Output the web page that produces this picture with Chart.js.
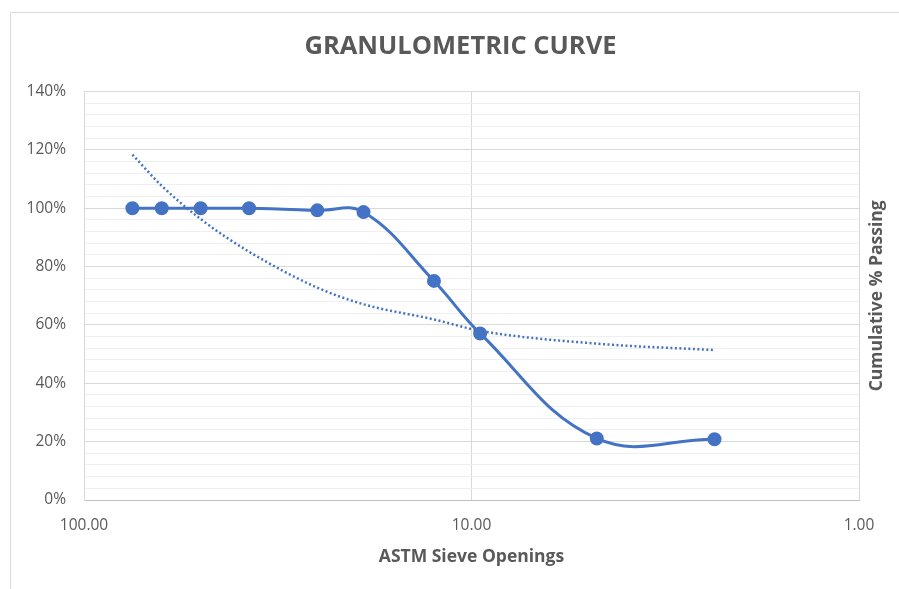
<!DOCTYPE html>
<html>
<head>
<meta charset="utf-8">
<script src="https://cdn.jsdelivr.net/npm/chart.js@4"></script>
<style>
  body { margin: 0; background: #fff; }
  #wrap { position: relative; width: 899px; height: 589px; }
</style>
</head>
<body>
<div id="wrap"><canvas id="curveChart" width="899" height="589"></canvas></div>
<script>
// sieve openings (mm) and % passing
var sieveSizes = [75, 63, 50, 37.5, 25, 19, 12.5, 9.5, 4.75, 2.36];
var passing = [100, 100, 100, 100, 99.3, 98.7, 75.1, 57.1, 21.1, 20.8];
var trendValues = [118.4, 107.7, 96.3, 85.1, 72.8, 67.1, 61.9, 58.0, 53.6, 51.4];
var xTicks = [100, 10, 1];
var yLabelEvery = 20;

var BLUE = '#4472C4';
var GREY_TEXT = '#595959';
var FONT = "'Open Sans', 'Liberation Sans', sans-serif";

function toPoints(ys) {
    var pts = [];
    for (var i = 0; i < sieveSizes.length; ++i) {
        pts.push({ x: sieveSizes[i], y: ys[i] });
    }
    return pts;
}

// frame of the excel chart and the right hand title
var extras = {
    id: 'extras',
    beforeDraw: function (chart) {
        var ctx = chart.ctx;
        ctx.save();
        ctx.strokeStyle = '#d9d9d9';
        ctx.lineWidth = 1;
        ctx.beginPath();
        ctx.moveTo(10.5, 600);
        ctx.lineTo(10.5, 12.5);
        ctx.lineTo(905, 12.5);
        ctx.stroke();
        ctx.restore();
    },
    afterDraw: function (chart) {
        var ctx = chart.ctx;
        var a = chart.chartArea;
        ctx.save();
        ctx.translate(877, (a.top + a.bottom) / 2);
        ctx.rotate(-Math.PI / 2);
        ctx.fillStyle = GREY_TEXT;
        ctx.font = 'bold 17.5px ' + FONT;
        ctx.textAlign = 'center';
        ctx.textBaseline = 'middle';
        ctx.fillText('Cumulative % Passing', 0, 0);
        ctx.restore();
    }
};

var ctx = document.getElementById('curveChart').getContext('2d');
var chart = new Chart(ctx, {
    type: 'scatter',
    data: {
        datasets: [{
            label: 'Passing',
            data: toPoints(passing),
            showLine: true,
            borderColor: BLUE,
            backgroundColor: BLUE,
            borderWidth: 3,
            pointRadius: 5.5,
            tension: 0.4
        }, {
            label: 'Trend',
            data: toPoints(trendValues),
            showLine: true,
            borderColor: BLUE,
            borderWidth: 2.5,
            borderDash: [2, 2.5],
            pointRadius: 0,
            cubicInterpolationMode: 'monotone'
        }]
    },
    options: {
        responsive: false,
        animation: false,
        layout: { padding: { left: 22, right: 0, top: 0, bottom: 0 } },
        plugins: {
            legend: { display: false },
            tooltip: { enabled: false },
            title: {
                display: true,
                text: 'GRANULOMETRIC CURVE',
                color: GREY_TEXT,
                font: { family: FONT, size: 25.5, weight: 'bold' },
                padding: { top: 31, bottom: 30 }
            }
        },
        scales: {
            x: {
                type: 'logarithmic',
                reverse: true,
                min: 1,
                max: 100,
                afterBuildTicks: function (scale) {
                    scale.ticks = xTicks.map(function (v) { return { value: v }; });
                },
                afterFit: function (scale) { scale.height = 89; },
                ticks: {
                    color: GREY_TEXT,
                    font: { family: FONT, size: 15.5 },
                    padding: 16,
                    maxRotation: 0,
                    callback: function (v) { return Number(v).toFixed(2); }
                },
                grid: { color: '#d9d9d9', drawTicks: false },
                border: { color: '#bfbfbf' },
                title: {
                    display: true,
                    text: 'ASTM Sieve Openings',
                    color: GREY_TEXT,
                    font: { family: FONT, size: 17.5, weight: 'bold' },
                    padding: { top: 0, bottom: 21 }
                }
            },
            y: {
                min: 0,
                max: 140,
                afterFit: function (scale) { scale.width = 62; },
                ticks: {
                    stepSize: 4,
                    autoSkip: false,
                    color: GREY_TEXT,
                    font: { family: FONT, size: 15.5 },
                    padding: 18,
                    callback: function (v) { return v % yLabelEvery === 0 ? v + '%' : ''; }
                },
                grid: {
                    drawTicks: false,
                    color: function (c) {
                        return c.tick && c.tick.value % yLabelEvery === 0 ? '#d9d9d9' : '#efefef';
                    }
                },
                border: { color: '#d9d9d9' }
            },
            // empty right axis, only keeps room for the right hand title
            yRight: {
                position: 'right',
                min: 0,
                max: 140,
                afterFit: function (scale) { scale.width = 40; },
                ticks: { display: false },
                grid: { display: false },
                border: { display: false }
            }
        }
    },
    plugins: [extras]
});
</script>
</body>
</html>
